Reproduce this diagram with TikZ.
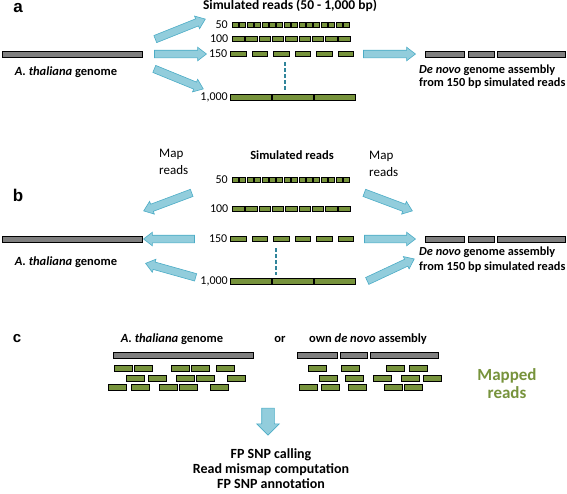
\documentclass[tikz,border=0pt]{standalone}
\usepackage{fontspec}
\setmainfont{Carlito}
\newfontfamily\panelfont{Liberation Sans}
\usetikzlibrary{positioning,calc,shapes.arrows}
\definecolor{readgreen}{RGB}{119,147,60}
\definecolor{genomegray}{RGB}{127,127,127}
\definecolor{arrowblue}{RGB}{146,205,220}
\definecolor{arrowedge}{RGB}{75,172,198}
\definecolor{dashblue}{RGB}{49,133,155}
\newcommand{\maparrow}[3][maparrow]{%
  \path let \p1=($(#3)-(#2)$), \n1={atan2(\y1,\x1)}, \n2={veclen(\x1,\y1)} in
    node[#1, minimum height=\n2, rotate=\n1] at ($(#2)!0.5!(#3)$) {};}

\begin{document}
\begin{tikzpicture}[
    x=1pt, y=-1pt,
    read/.style={draw=black, fill=readgreen, line width=0.6pt, inner sep=0pt,
                 minimum height=5pt, anchor=west},
    genome/.style={draw=black, fill=genomegray, line width=0.6pt, inner sep=0pt,
                   minimum height=6pt, anchor=west},
    maparrow/.style={single arrow, draw=arrowedge, fill=arrowblue, line width=0.6pt,
                     inner xsep=0pt, inner ysep=3.5pt, single arrow head extend=3pt,
                     single arrow tip angle=75},
    downarrow/.style={maparrow, inner ysep=6pt, single arrow head extend=5pt,
                      single arrow tip angle=90},
    dashline/.style={draw=dashblue, line width=2pt, dash pattern=on 4pt off 2pt},
    panel/.style={font=\panelfont\fontsize{17}{17}\selectfont\bfseries, inner sep=0pt},
    captext/.style={font=\fontsize{12.5}{14}\selectfont\bfseries, inner sep=0pt},
    asmtext/.style={font=\fontsize{12.3}{13.5}\selectfont\bfseries, inner sep=0pt,
                    align=left, anchor=west},
    rowlabel/.style={font=\fontsize{12}{12}\selectfont, inner sep=0pt},
    maptext/.style={font=\fontsize{13}{17}\selectfont, inner sep=0pt, align=left, anchor=west}]
\useasboundingbox (0,0) rectangle (567,493);

% simulated read rows, same in a and b
\foreach \p/\ya/\yb/\yc/\yd in {a/25/39/54/97, b/180/209/239/281} {
  \foreach \i in {0,...,15}
    \node[read, minimum width=6pt] (\p50-\i) at ({232+7.4*\i},\ya) {};
  \foreach \i in {0,...,8}
    \node[read, minimum width=11.5pt] (\p100-\i) at ({232+13.3*\i},\yb) {};
  \foreach \i in {0,...,5}
    \node[read, minimum width=15.5pt] (\p150-\i) at ({230+21.5*\i},\yc) {};
  \foreach \i in {0,...,2}
    \node[read, minimum width=41pt, minimum height=6pt] (\p1k-\i) at ({230+42.2*\i},\yd) {};
  \node[rowlabel, left=4pt of \p50-0] (\p-l50) {50};
  \node[rowlabel, left=3.5pt of \p100-0] (\p-l100) {100};
  \node[rowlabel, left=2.5pt of \p150-0] (\p-l150) {150};
  \node[rowlabel, left=2pt of \p1k-0] (\p-l1k) {1,000};
  % de novo assembly
  \node[genome, minimum width=39pt] (\p-asm1) at (425,\yc) {};
  \node[genome, minimum width=26pt] (\p-asm2) at (468,\yc) {};
  \node[genome, minimum width=68pt] (\p-asm3) at (497,\yc) {};
  \node[genome, minimum width=140pt] (\p-gen) at (2,\yc) {};
}

% panel a
\node[panel] (lab-a) at (18,8) {a};
\node[captext, font=\fontsize{13.5}{14}\selectfont\bfseries] (a-title) at (290,6)
  {Simulated reads (50 - 1,000 bp)};
\node[captext] (a-gen-txt) at (66,72) {\textit{A. thaliana} genome};
\node[asmtext] (a-asm-txt) at (419,76.5)
  {\textit{De novo} genome assembly\\from 150 bp simulated reads};
\coordinate (a-up-s) at (153,40);  \coordinate (a-up-e) at (203,20);
\coordinate (a-mid-s) at (152,54); \coordinate (a-mid-e) at (204,54);
\coordinate (a-lo-s) at (152,68);  \coordinate (a-lo-e) at (201,88);
\coordinate (a-asm-s) at (361,54); \coordinate (a-asm-e) at (413,54);
\maparrow{a-up-s}{a-up-e}
\maparrow{a-mid-s}{a-mid-e}
\maparrow{a-lo-s}{a-lo-e}
\maparrow{a-asm-s}{a-asm-e}
\coordinate (a-dash-s) at (285,62); \coordinate (a-dash-e) at (285,90);
\draw[dashline] (a-dash-s) -- (a-dash-e);

% panel b
\node[panel] (lab-b) at (18,195) {b};
\node[captext] (b-title) at (292,155) {Simulated reads};
\node[maptext] (b-map-l) at (159,162) {Map\\reads};
\node[maptext] (b-map-r) at (369,164) {Map\\reads};
\node[captext] (b-gen-txt) at (66,262) {\textit{A. thaliana} genome};
\node[asmtext, font=\fontsize{12.3}{15}\selectfont\bfseries] (b-asm-txt) at (419,259.5)
  {\textit{De novo} genome assembly\\from 150 bp simulated reads};
\coordinate (b-ul-s) at (194,192); \coordinate (b-ul-e) at (146,210);
\coordinate (b-ml-s) at (197,239); \coordinate (b-ml-e) at (146,239);
\coordinate (b-ll-s) at (198,278); \coordinate (b-ll-e) at (148,264);
\coordinate (b-ur-s) at (362,192); \coordinate (b-ur-e) at (410,210);
\coordinate (b-mr-s) at (362,239); \coordinate (b-mr-e) at (413,239);
\coordinate (b-lr-s) at (365,282); \coordinate (b-lr-e) at (412,260);
\foreach \a in {ul,ml,ll,ur,mr,lr}
  \maparrow{b-\a-s}{b-\a-e};
\coordinate (b-dash-s) at (276,248); \coordinate (b-dash-e) at (276,275);
\draw[dashline] (b-dash-s) -- (b-dash-e);

% panel c
\node[panel, font=\panelfont\fontsize{15}{15}\selectfont\bfseries] (lab-c) at (17,339) {c};
\node[captext] (c-ref-txt) at (172,339) {\textit{A. thaliana} genome};
\node[captext] (c-or) at (280,339) {or};
\node[captext] (c-own-txt) at (368,339) {own \textit{de novo} assembly};
\node[genome, minimum width=140pt] (c-gen) at (113,355) {};
\node[genome, minimum width=40pt] (c-asm1) at (297,355) {};
\node[genome, minimum width=27pt] (c-asm2) at (340,355) {};
\node[genome, minimum width=68pt] (c-asm3) at (370,355) {};
\foreach \x [count=\k] in {114,134,171,191,216,308,341,386,409}
  \node[read, minimum width=18pt, minimum height=6pt] (c-r1-\k) at (\x,368) {};
\foreach \x [count=\k] in {126,148,176,196,227,319,345,373,401,423}
  \node[read, minimum width=18pt, minimum height=6pt] (c-r2-\k) at (\x,378) {};
\foreach \x [count=\k] in {108,131,159,179,210,299,321,348,384,404}
  \node[read, minimum width=18pt, minimum height=6pt] (c-r3-\k) at (\x,387) {};
\node[captext, font=\fontsize{17}{18}\selectfont\bfseries, text=readgreen, align=center]
  (c-mapped) at (507,384) {Mapped\\reads};
\coordinate (c-down-s) at (268,405); \coordinate (c-down-e) at (268,432);
\maparrow[downarrow]{c-down-s}{c-down-e}
\node[captext, font=\fontsize{14}{15}\selectfont\bfseries, align=center]
  (c-steps) at (271,469) {FP SNP calling\\Read mismap computation\\FP SNP annotation};
\end{tikzpicture}
\end{document}
